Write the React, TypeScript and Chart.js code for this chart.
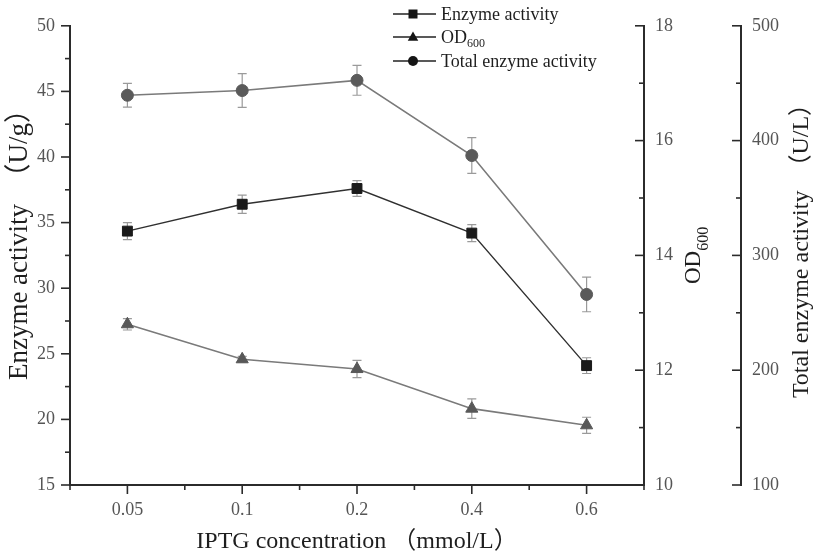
import React, { useEffect, useRef } from 'react';
import { Chart, registerables } from 'chart.js';

Chart.register(...registerables);

// ---- data ----
const categories = ['0.05', '0.1', '0.2', '0.4', '0.6'];
const enzymeActivity = [34.35, 36.4, 37.6, 34.2, 24.1];
const enzymeErr = [0.65, 0.7, 0.6, 0.65, 0.6];
const od600 = [12.8, 12.19, 12.02, 11.33, 11.04];
const od600Err = [0.1, 0.05, 0.15, 0.17, 0.14];
const totalActivity = [439.5, 443.6, 452.5, 387, 266];
const totalErr = [10.4, 14.7, 13, 15.6, 15.1];

const leftRange = [15, 50];
const odRange = [10, 18];
const totalRange = [100, 500];

const legendLabels = ['Enzyme activity', 'OD', 'Total enzyme activity'];

const SERIF = "'Liberation Serif', 'DejaVu Serif', 'Noto Sans CJK SC', serif";
const AXIS_COLOR = '#2b2b2b';
const TICK_COLOR = '#555555';
const TITLE_COLOR = '#1e1e1e';

function isMajor(id: string, v: number) {
  if (id === 'x') return Number.isInteger(v);
  if (id === 'y') return Math.abs(v % 5) < 1e-9;
  if (id === 'yOD') return Math.abs(v % 2) < 1e-9;
  return Math.abs(v % 100) < 1e-9;
}

function drawMarker(ctx: CanvasRenderingContext2D, style: string, x: number, y: number, r: number) {
  ctx.beginPath();
  if (style === 'rect') {
    ctx.rect(x - r, y - r, 2 * r, 2 * r);
  } else if (style === 'triangle') {
    ctx.moveTo(x, y - r * 1.1);
    ctx.lineTo(x + r * 1.05, y + r * 0.75);
    ctx.lineTo(x - r * 1.05, y + r * 0.75);
    ctx.closePath();
  } else {
    ctx.arc(x, y, r, 0, Math.PI * 2);
  }
  ctx.fill();
}

const decorPlugin = {
  id: 'decor',
  beforeDatasetsDraw(chart: any) {
    const ctx = chart.ctx as CanvasRenderingContext2D;
    const xs = chart.scales.x;
    const sets = [
      { vals: enzymeActivity, errs: enzymeErr, axis: 'y' },
      { vals: od600, errs: od600Err, axis: 'yOD' },
      { vals: totalActivity, errs: totalErr, axis: 'yTot' },
    ];
    ctx.save();
    ctx.strokeStyle = '#9a9a9a';
    ctx.lineWidth = 1.2;
    sets.forEach((s) => {
      const ys = chart.scales[s.axis];
      s.vals.forEach((v, i) => {
        const x = xs.getPixelForValue(i);
        const t = ys.getPixelForValue(v + s.errs[i]);
        const b = ys.getPixelForValue(v - s.errs[i]);
        ctx.beginPath();
        ctx.moveTo(x, t);
        ctx.lineTo(x, b);
        ctx.moveTo(x - 4.5, t);
        ctx.lineTo(x + 4.5, t);
        ctx.moveTo(x - 4.5, b);
        ctx.lineTo(x + 4.5, b);
        ctx.stroke();
      });
    });
    ctx.restore();
  },
  afterDraw(chart: any) {
    const ctx = chart.ctx as CanvasRenderingContext2D;
    ctx.save();
    // tick marks
    ctx.strokeStyle = AXIS_COLOR;
    ctx.lineWidth = 1.6;
    ['x', 'y', 'yOD', 'yTot'].forEach((id) => {
      const sc = chart.scales[id];
      sc.ticks.forEach((t: any) => {
        const len = isMajor(id, t.value) ? 9 : 5;
        const p = sc.getPixelForValue(t.value);
        ctx.beginPath();
        if (id === 'x') {
          ctx.moveTo(p, sc.top);
          ctx.lineTo(p, sc.top + len);
        } else if (id === 'y') {
          ctx.moveTo(sc.right, p);
          ctx.lineTo(sc.right - len, p);
        } else {
          ctx.moveTo(sc.left, p);
          ctx.lineTo(sc.left - len, p);
        }
        ctx.stroke();
      });
    });

    // axis titles
    ctx.fillStyle = TITLE_COLOR;
    ctx.textBaseline = 'alphabetic';
    // left
    ctx.save();
    ctx.font = `27px ${SERIF}`;
    ctx.translate(27, 238);
    ctx.rotate(-Math.PI / 2);
    ctx.textAlign = 'center';
    ctx.fillText('Enzyme activity\u3000（U/g）', 0, 0);
    ctx.restore();
    // right total
    ctx.save();
    ctx.font = `24px ${SERIF}`;
    ctx.translate(808, 245);
    ctx.rotate(-Math.PI / 2);
    ctx.textAlign = 'center';
    ctx.fillText('Total enzyme activity\u3000（U/L）', 0, 0);
    ctx.restore();
    // OD600
    ctx.save();
    ctx.translate(700, 284);
    ctx.rotate(-Math.PI / 2);
    ctx.textAlign = 'left';
    ctx.font = `23px ${SERIF}`;
    ctx.fillText('OD', 0, 0);
    const w = ctx.measureText('OD').width;
    ctx.font = `16px ${SERIF}`;
    ctx.fillText('600', w, 8);
    ctx.restore();
    // x title
    ctx.textAlign = 'center';
    ctx.font = `24px ${SERIF}`;
    ctx.fillText('IPTG concentration （mmol/L）', 357, 548);

    // legend
    const rows = [14, 37, 61];
    const styles = ['rect', 'triangle', 'circle'];
    rows.forEach((y, i) => {
      ctx.strokeStyle = '#222';
      ctx.lineWidth = 1.5;
      ctx.beginPath();
      ctx.moveTo(393, y);
      ctx.lineTo(436, y);
      ctx.stroke();
      ctx.fillStyle = '#151515';
      drawMarker(ctx, styles[i], 413, y, styles[i] === 'rect' ? 4.5 : 5);
      ctx.fillStyle = TITLE_COLOR;
      ctx.textAlign = 'left';
      ctx.font = `18px ${SERIF}`;
      ctx.textBaseline = 'alphabetic';
      ctx.fillText(legendLabels[i], 441, y + 6);
      if (i === 1) {
        const ww = ctx.measureText(legendLabels[i]).width;
        ctx.font = `12px ${SERIF}`;
        ctx.fillText('600', 441 + ww, y + 10);
      }
    });
    ctx.restore();
  },
};

export default function App() {
  const ref = useRef<HTMLCanvasElement | null>(null);

  useEffect(() => {
    if (!ref.current) return;
    const tickFont = { family: SERIF, size: 18 };
    const hiddenGrid = { display: true, drawOnChartArea: false, drawTicks: false };
    const border = { display: true, color: AXIS_COLOR, width: 2 };

    const chart = new Chart(ref.current, {
      type: 'line',
      data: {
        datasets: [
          {
            label: legendLabels[0],
            data: enzymeActivity.map((v, i) => ({ x: i, y: v })),
            yAxisID: 'y',
            borderColor: '#303030',
            backgroundColor: '#1a1a1a',
            pointBackgroundColor: '#1a1a1a',
            pointBorderColor: '#1a1a1a',
            pointStyle: 'rect',
            pointRadius: 7,
            borderWidth: 1.4,
            pointBorderWidth: 1,
          },
          {
            label: 'OD600',
            data: od600.map((v, i) => ({ x: i, y: v })),
            yAxisID: 'yOD',
            borderColor: '#7a7a7a',
            backgroundColor: '#585858',
            pointBackgroundColor: '#585858',
            pointBorderColor: '#585858',
            pointStyle: 'triangle',
            pointRadius: 7,
            borderWidth: 1.6,
            pointBorderWidth: 1,
          },
          {
            label: legendLabels[2],
            data: totalActivity.map((v, i) => ({ x: i, y: v })),
            yAxisID: 'yTot',
            borderColor: '#7a7a7a',
            backgroundColor: '#5a5a5a',
            pointBackgroundColor: '#5a5a5a',
            pointBorderColor: '#5a5a5a',
            pointStyle: 'circle',
            pointRadius: 6,
            borderWidth: 1.6,
            pointBorderWidth: 1,
          },
        ],
      },
      options: {
        responsive: false,
        animation: false,
        layout: { padding: { top: 22, left: 0, right: 0, bottom: 0 } },
        plugins: { legend: { display: false }, tooltip: { enabled: false } },
        scales: {
          x: {
            type: 'linear',
            min: -0.5,
            max: 4.5,
            grid: hiddenGrid,
            border,
            ticks: {
              stepSize: 0.5,
              autoSkip: false,
              maxRotation: 0,
              padding: 14,
              color: TICK_COLOR,
              font: tickFont,
              callback: (v: any) => (Number.isInteger(v) ? categories[v] : ''),
            },
            afterFit: (s: any) => {
              s.height = 69;
            },
          },
          y: {
            position: 'left',
            min: leftRange[0],
            max: leftRange[1],
            grid: hiddenGrid,
            border,
            ticks: {
              stepSize: 2.5,
              autoSkip: false,
              padding: 15,
              color: TICK_COLOR,
              font: tickFont,
              callback: (v: any) => (v % 5 === 0 ? String(v) : ''),
            },
            afterFit: (s: any) => {
              s.width = 70;
            },
          },
          yOD: {
            position: 'right',
            weight: 0,
            min: odRange[0],
            max: odRange[1],
            grid: hiddenGrid,
            border,
            ticks: {
              stepSize: 1,
              autoSkip: false,
              padding: 11,
              color: TICK_COLOR,
              font: tickFont,
              callback: (v: any) => (v % 2 === 0 ? String(v) : ''),
            },
            afterFit: (s: any) => {
              s.width = 97;
            },
          },
          yTot: {
            position: 'right',
            weight: 1,
            min: totalRange[0],
            max: totalRange[1],
            grid: hiddenGrid,
            border,
            ticks: {
              stepSize: 50,
              autoSkip: false,
              padding: 11,
              color: TICK_COLOR,
              font: tickFont,
              callback: (v: any) => (v % 100 === 0 ? String(v) : ''),
            },
            afterFit: (s: any) => {
              s.width = 72;
            },
          },
        },
      } as any,
      plugins: [decorPlugin as any],
    });
    return () => chart.destroy();
  }, []);

  return (
    <div style={{ position: 'fixed', left: 0, top: 0, width: 813, height: 554, background: '#fff' }}>
      <canvas ref={ref} width={813} height={554} />
    </div>
  );
}
